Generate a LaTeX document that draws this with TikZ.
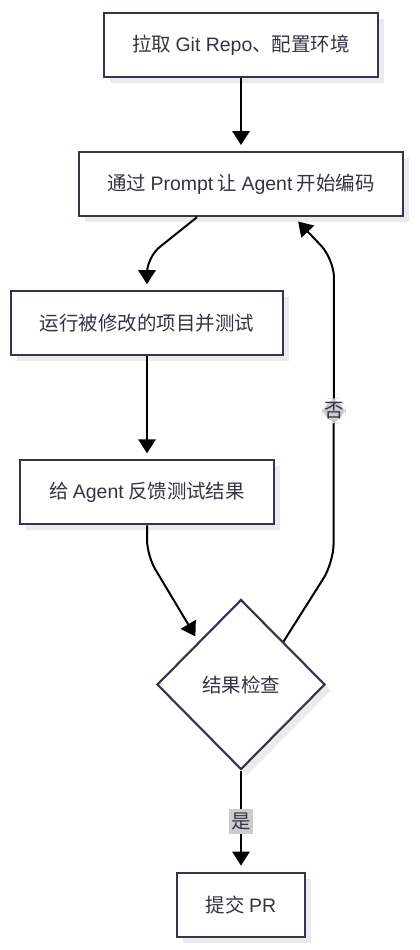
\documentclass[tikz,border=0pt]{standalone}
\usepackage{fontspec}
\setmainfont{Noto Sans CJK SC}
\newfontfamily\lat{Liberation Sans}
\usetikzlibrary{positioning,arrows.meta,shapes.geometric,shadows}
\definecolor{boxline}{HTML}{333355}
\definecolor{boxtext}{HTML}{333344}

\begin{document}
\begin{tikzpicture}[
  x=0.75pt, y=-0.75pt,
  >={Triangle[length=10.5pt, width=13pt]},
  box/.style={rectangle, draw=boxline, line width=1.6pt, fill=white, text=boxtext, minimum height=48pt, inner xsep=21.5pt, font=\fontsize{14.6pt}{17pt}\selectfont, drop shadow={shadow xshift=4.5pt, shadow yshift=-4.5pt, fill=black!8, opacity=1}},
  decision/.style={box, diamond, minimum width=126pt, minimum height=127.5pt, inner sep=0pt},
  flow/.style={->, line width=1.5pt, shorten >=4.5pt},
  elabel/.style={fill=black!20, text=boxtext, inner xsep=1.5pt, inner ysep=3pt, font=\fontsize{14.6pt}{17pt}\selectfont},
  node distance=54.75pt
]
\useasboundingbox (0,0) rectangle (419,950);

\node[box] (pull) at (241,45) {拉取 {\lat Git Repo}、配置环境};
\node[box, below=of pull] (prompt) {通过 {\lat Prompt} 让 {\lat Agent} 开始编码};
\node[box, below=of prompt, xshift=-70.5pt] (run) {运行被修改的项目并测试};
\node[box, below=77.25pt of run] (feedback) {给 {\lat Agent} 反馈测试结果};
\node[decision, below=of feedback, xshift=70.5pt] (check) {结果检查};
\node[box, below=75.75pt of check] (submit) {提交 {\lat PR}};

% main flow
\draw[flow] (pull) -- (prompt);
\draw[flow, rounded corners=12pt] ([xshift=-33pt]prompt.south) -- ([yshift=24.75pt]run.north) -- (run.north);
\draw[flow] (run) -- (feedback);
\draw[flow, rounded corners=12pt] (feedback.south) -- ([yshift=-22.5pt]feedback.south) -- (check.north west);

% check outcomes
\draw[flow, rounded corners=14pt] (check.north east) -- ++(50,-79) -- node[elabel] {否} ([xshift=69.75pt, yshift=-31.5pt]prompt.south) -- ([xshift=39.75pt]prompt.south);
\draw[flow] (check) -- node[elabel] {是} (submit);

\end{tikzpicture}
\end{document}
